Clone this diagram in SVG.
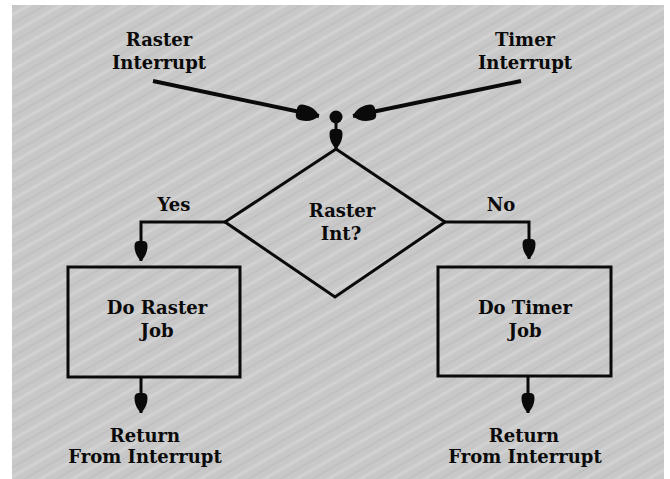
<svg xmlns="http://www.w3.org/2000/svg" width="670" height="479" viewBox="0 0 670 479">
  <style>
    .t { font-family: "DejaVu Serif", "Liberation Serif", serif; font-weight: bold; font-size: 18px; fill: #0a0a0a; text-anchor: middle; }
    .shape { fill: none; stroke: #0a0a0a; stroke-width: 3; }
    .conn { fill: none; stroke: #0a0a0a; stroke-width: 3; }
    .feed { fill: none; stroke: #0a0a0a; stroke-width: 4; }
  </style>
  <defs>
    <pattern id="grain" width="16" height="16" patternUnits="userSpaceOnUse" patternTransform="rotate(-30)">
      <rect width="16" height="16" fill="#c8c8c8"/>
      <line x1="0" y1="3" x2="16" y2="3" stroke="#d2d2d2" stroke-width="3"/>
      <line x1="0" y1="11" x2="16" y2="11" stroke="#c1c1c1" stroke-width="2"/>
    </pattern>
    <marker id="ah" markerUnits="userSpaceOnUse" markerWidth="22" markerHeight="16" viewBox="-21 -8 22 16" refX="0" refY="0" orient="auto">
      <path d="M0,0 C-4,-4 -9,-6.5 -15,-6.5 Q-20,-6.5 -20,-2 L-20,2 Q-20,6.5 -15,6.5 C-9,6.5 -4,4 0,0 Z" fill="#0a0a0a"/>
    </marker>
    <marker id="ahL" markerUnits="userSpaceOnUse" markerWidth="26" markerHeight="20" viewBox="-25 -10 26 20" refX="0" refY="0" orient="auto">
      <path d="M0,0 C-4,-6 -10,-8 -17,-8 Q-23,-8 -23,-3 L-23,3 Q-23,8 -17,8 C-10,8 -4,6 0,0 Z" fill="#0a0a0a"/>
    </marker>
  </defs>

  <rect x="0" y="0" width="670" height="479" fill="#ffffff"/>
  <rect x="12" y="5" width="652" height="474" fill="url(#grain)"/>

  <g id="connectors">
    <line class="feed" x1="153" y1="81" x2="319" y2="116" marker-end="url(#ahL)"/>
    <line class="feed" x1="521" y1="81" x2="353" y2="116" marker-end="url(#ahL)"/>
    <line class="conn" x1="336" y1="121" x2="336" y2="149" marker-end="url(#ah)"/>
    <path class="conn" d="M225,222 H141 V261" marker-end="url(#ah)"/>
    <path class="conn" d="M445,222 H529 V259" marker-end="url(#ah)"/>
    <line class="conn" x1="141" y1="377" x2="141" y2="413" marker-end="url(#ah)"/>
    <line class="conn" x1="528" y1="376" x2="528" y2="413" marker-end="url(#ah)"/>
  </g>

  <g id="raster-interrupt">
    <text class="t" x="159" y="46">Raster</text>
    <text class="t" x="159" y="69">Interrupt</text>
  </g>
  <g id="timer-interrupt">
    <text class="t" x="525" y="46">Timer</text>
    <text class="t" x="525" y="69">Interrupt</text>
  </g>
  <g id="junction">
    <circle cx="336" cy="117" r="6.5" fill="#0a0a0a"/>
  </g>
  <g id="decision">
    <polygon class="shape" points="336,149 445,222 335,297 225,222"/>
    <text class="t" x="342" y="217">Raster</text>
    <text class="t" x="341" y="240">Int?</text>
  </g>
  <g id="label-yes">
    <text class="t" x="174" y="211">Yes</text>
  </g>
  <g id="label-no">
    <text class="t" x="501" y="211">No</text>
  </g>
  <g id="do-raster-job">
    <rect class="shape" x="68" y="267" width="172" height="110"/>
    <text class="t" x="157" y="314">Do Raster</text>
    <text class="t" x="157" y="337">Job</text>
  </g>
  <g id="do-timer-job">
    <rect class="shape" x="438" y="267" width="173" height="109"/>
    <text class="t" x="525" y="314">Do Timer</text>
    <text class="t" x="525" y="337">Job</text>
  </g>
  <g id="return-left">
    <text class="t" x="145" y="442">Return</text>
    <text class="t" x="145" y="463">From Interrupt</text>
  </g>
  <g id="return-right">
    <text class="t" x="524" y="442">Return</text>
    <text class="t" x="525" y="463">From Interrupt</text>
  </g>
</svg>
